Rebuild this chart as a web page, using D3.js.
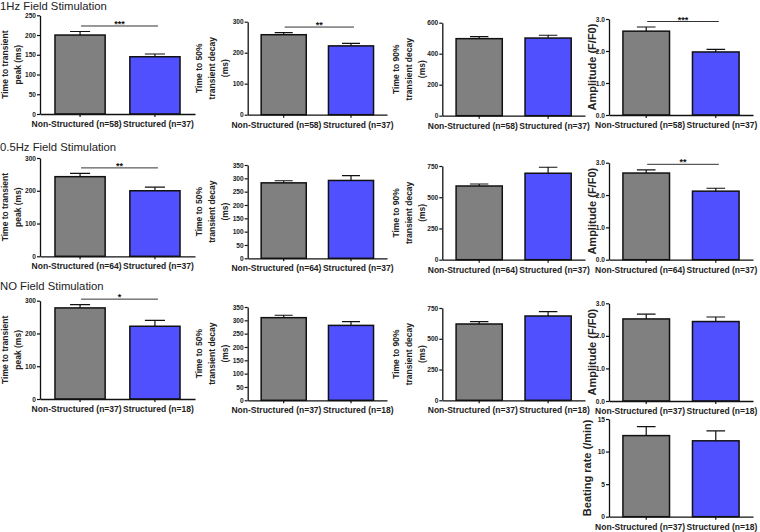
<!DOCTYPE html>
<html>
<head>
<meta charset="utf-8">
<script src="https://cdn.jsdelivr.net/npm/d3@7"></script>
<style>
    body { margin: 0; background: #fff; }
    svg { font-family: "Liberation Sans", Arial, sans-serif; }
</style>
</head>
<body>
<div id="chart"></div>
<script>
        // data (mean, SEM)
        const groups = ["Non-Structured", "Structured"];
        const conditions = ["1Hz Field Stimulation", "0.5Hz Field Stimulation", "NO Field Stimulation"];
        const groupN = [[58, 37], [64, 37], [37, 18]];

        const peakMean = [[200, 145], [243, 200], [278, 222]];
        const peakSem = [[9, 7], [10, 11], [10, 18]];
        const decay50Mean = [[258, 222], [283, 292], [310, 281]];
        const decay50Sem = [[7, 8], [8, 18], [9, 14]];
        const decay90Mean = [[497, 501], [590, 692], [620, 685]];
        const decay90Sem = [[13, 18], [16, 48], [19, 35]];
        const ampMean = [[2.62, 1.97], [2.68, 2.12], [2.52, 2.44]];
        const ampSem = [[0.13, 0.08], [0.1, 0.09], [0.15, 0.14]];
        const beatMean = [12.45, 11.65];
        const beatSem = [1.38, 1.52];

        const sigMarks = [["***", "**", null, "***"], ["**", null, null, "**"], ["*", null, null, null]];

        const yMax = [[250, 300, 600, 3], [300, 350, 750, 3], [300, 350, 750, 3]];
        const yStep = [[50, 100, 200, 1], [100, 50, 250, 1], [100, 50, 250, 1]];
        const beatMax = 15, beatStep = 5;

        const yLabels = [
            ["Time to transient", "peak (ms)"],
            ["Time to 50%", "transient decay", "(ms)"],
            ["Time to 90%", "transient decay", "(ms)"],
            ["Amplitude (F/F0)"]
        ];
        const beatLabel = ["Beating rate (/min)"];

        const means = [peakMean, decay50Mean, decay90Mean, ampMean];
        const sems = [peakSem, decay50Sem, decay90Sem, ampSem];

        // layout
        const width = 760, height = 532;
        const colX = [[40, 195], [247.7, 387], [442.3, 585], [609, 753]];
        const rowY = [
            [[15.3, 114], [21.7, 114.7], [22.7, 115.7], [19, 115]],
            [[158, 256.3], [165, 258.3], [166, 259.7], [162.7, 259.7]],
            [[300.7, 399], [307, 400.3], [308, 400.3], [303.3, 401]]
        ];
        const labelX = [[5, 18], [199, 212, 225], [396, 409, 422], [592]];
        const titleY = [9.5, 150.5, 290];
        const colors = ["#808080", "#5050ff"];

        const svg = d3.select("#chart")
            .append("svg")
            .attr("width", width)
            .attr("height", height);

        svg.selectAll("text.title")
            .data(conditions)
            .join("text")
            .attr("class", "title")
            .attr("x", 0)
            .attr("y", (d, i) => titleY[i])
            .attr("font-size", 11.3)
            .attr("fill", "#222")
            .text(d => d);

        function drawPanel(p) {
            const g = svg.append("g");
            const x = d3.scaleBand()
                .domain(groups)
                .range([p.x0, p.x1])
                .paddingInner(0.33)
                .paddingOuter(0.2);
            const y = d3.scaleLinear()
                .domain([0, p.max])
                .range([p.yBot, p.yTop]);
            const bw = x.bandwidth();
            const rows = groups.map((grp, i) => ({ grp, mean: p.means[i], sem: p.sems[i], n: p.ns[i], i }));

            g.selectAll("rect.bar")
                .data(rows)
                .join("rect")
                .attr("class", "bar")
                .attr("x", d => x(d.grp))
                .attr("y", d => y(d.mean))
                .attr("width", bw)
                .attr("height", d => y(0) - y(d.mean))
                .attr("fill", d => colors[d.i])
                .attr("stroke", "#111")
                .attr("stroke-width", 1.5);

            const cap = bw * 0.2;
            g.selectAll("path.err")
                .data(rows)
                .join("path")
                .attr("class", "err")
                .attr("d", d => {
                    const cx = x(d.grp) + bw / 2;
                    return `M${cx},${y(d.mean)}V${y(d.mean + d.sem)}M${cx - cap},${y(d.mean + d.sem)}H${cx + cap}`;
                })
                .attr("fill", "none")
                .attr("stroke", "#111")
                .attr("stroke-width", 1.2);

            const yAxis = g.append("g")
                .attr("transform", `translate(${p.x0},0)`)
                .call(d3.axisLeft(y)
                    .tickValues(d3.range(0, p.max + p.step / 2, p.step))
                    .tickSize(3)
                    .tickSizeOuter(0));
            const xAxis = g.append("g")
                .attr("transform", `translate(0,${p.yBot})`)
                .call(d3.axisBottom(x)
                    .tickSize(3)
                    .tickSizeOuter(0)
                    .tickFormat((d, i) => `${d} (n=${p.ns[i]})`));

            [yAxis, xAxis].forEach(ax => {
                ax.select(".domain").attr("stroke", "#111").attr("stroke-width", 1.3);
                ax.selectAll(".tick line").attr("stroke", "#111").attr("stroke-width", 1.2);
            });
            yAxis.selectAll(".tick text")
                .attr("x", -4)
                .attr("font-size", 6.6)
                .attr("font-weight", "bold")
                .attr("fill", "#222");
            const xt = xAxis.selectAll(".tick text")
                .attr("y", 7)
                .attr("font-size", 8.5)
                .attr("font-weight", "bold")
                .attr("fill", "#222");

            // push the two category labels apart when they would collide (as Prism does)
            const nodes = xt.nodes();
            const w = nodes.map(n => n.getComputedTextLength());
            const step = x.step();
            const overlap = w[0] / 2 + w[1] / 2 + 1.5 - step;
            if (overlap > 0) {
                d3.select(nodes[0]).attr("x", -overlap / 2);
                d3.select(nodes[1]).attr("x", overlap / 2);
            }

            const yc = (p.yTop + p.yBot) / 2;
            g.selectAll("text.ylab")
                .data(p.label)
                .join("text")
                .attr("class", "ylab")
                .attr("transform", (d, i) => `translate(${p.labelX[i]},${yc}) rotate(-90)`)
                .attr("dy", "0.35em")
                .attr("text-anchor", "middle")
                .attr("font-size", p.labelSize)
                .attr("font-weight", "bold")
                .attr("fill", "#222")
                .text(d => d);

            if (p.sig) {
                const top = d3.min(rows, d => y(d.mean + d.sem)) - 5.5;
                const xa = x(groups[0]) + bw / 2 + 1;
                const xb = x(groups[1]) + bw / 2 + 3;
                g.append("line")
                    .attr("x1", xa).attr("x2", xb)
                    .attr("y1", top).attr("y2", top)
                    .attr("stroke", "#333")
                    .attr("stroke-width", 1);
                g.append("text")
                    .attr("x", (xa + xb) / 2)
                    .attr("y", top + 1)
                    .attr("text-anchor", "middle")
                    .attr("font-size", 9)
                    .attr("font-weight", "bold")
                    .attr("fill", "#111")
                    .text(p.sig);
            }
        }

        conditions.forEach((cond, r) => {
            yLabels.forEach((lab, c) => {
                drawPanel({
                    x0: colX[c][0], x1: colX[c][1],
                    yTop: rowY[r][c][0], yBot: rowY[r][c][1],
                    max: yMax[r][c], step: yStep[r][c],
                    means: means[c][r], sems: sems[c][r], ns: groupN[r],
                    sig: sigMarks[r][c],
                    label: lab, labelX: labelX[c],
                    labelSize: c === 3 ? 11 : 8.5
                });
            });
        });

        drawPanel({
            x0: colX[3][0], x1: colX[3][1],
            yTop: 419, yBot: 516.7,
            max: beatMax, step: beatStep,
            means: beatMean, sems: beatSem, ns: groupN[2],
            sig: null,
            label: beatLabel, labelX: [587],
            labelSize: 11
        });
</script>
</body>
</html>
